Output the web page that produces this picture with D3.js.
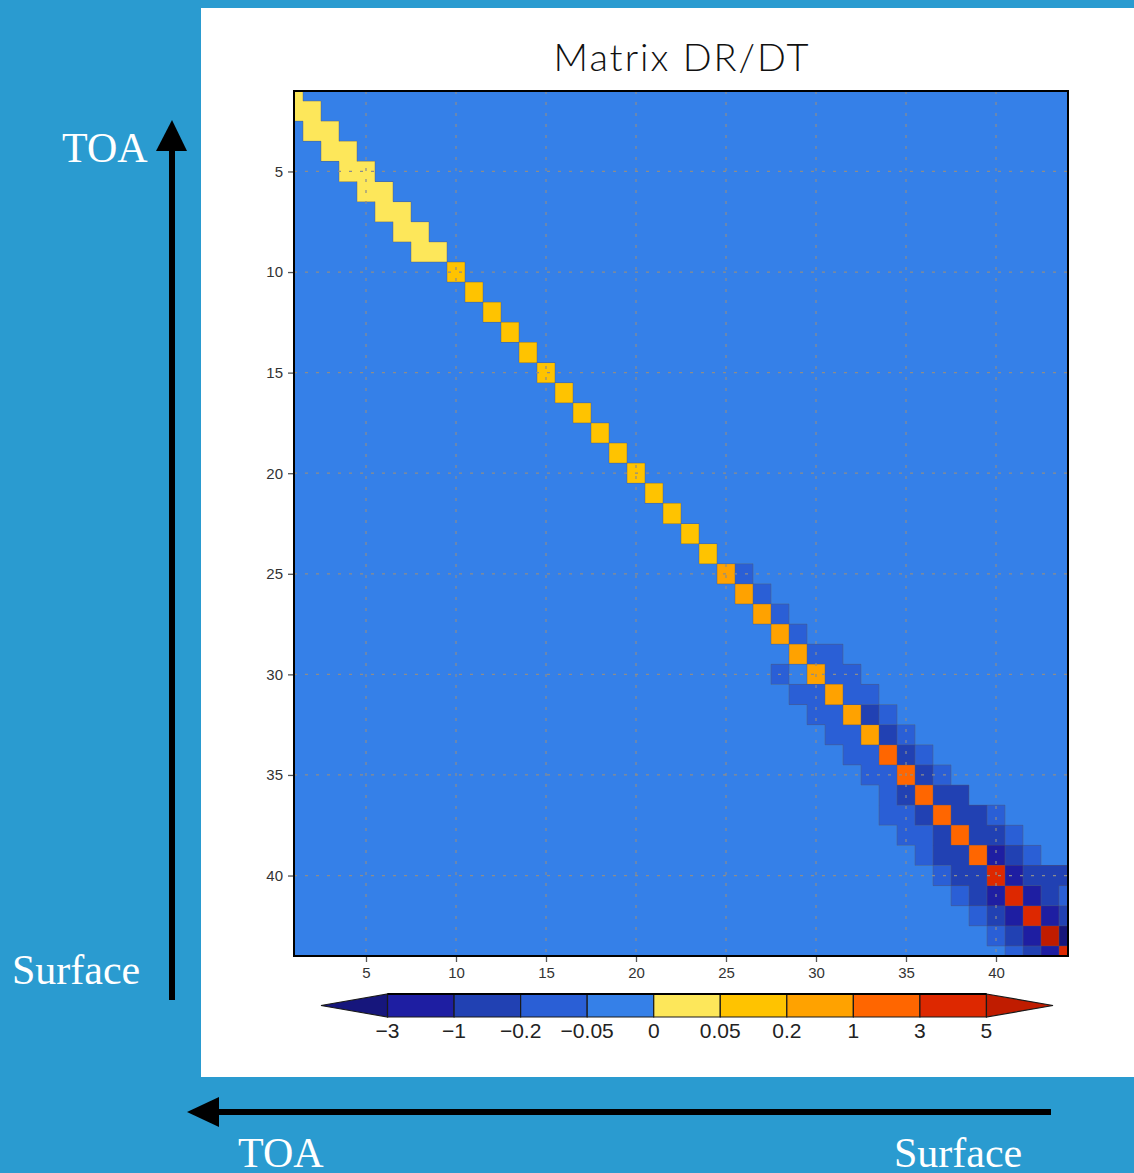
<!DOCTYPE html>
<html>
<head>
<meta charset="utf-8">
<script src="https://cdn.jsdelivr.net/npm/d3@7"></script>
<style>
  html, body { margin: 0; padding: 0; background: #2a9bd0; }
  svg { display: block; }
</style>
</head>
<body>
<div id="chart"></div>
<script>
// contour levels and fill colours (one more colour than levels)
const levels = [-3, -1, -0.2, -0.05, 0, 0.05, 0.2, 1, 3, 5];
const levelLabels = ["\u22123", "\u22121", "\u22120.2", "\u22120.05", "0", "0.05", "0.2", "1", "3", "5"];
const fillColors = ["#16167c", "#1e1ea2", "#2141b3", "#2a5fd6", "#3580e8",
  "#fde75a", "#ffc300", "#ffa200", "#ff6600", "#dd2800", "#c01c00"];

const nLevels = 44;
const axisTicks = [5, 10, 15, 20, 25, 30, 35, 40];

// first non-zero column of each row (1-based) and the values from there on
const rowStart = [
  1, 1, 2, 3, 4, 5, 6, 7, 8, 10,
  11, 12, 13, 14, 15, 16, 17, 18, 19, 20,
  21, 22, 23, 24, 25, 26, 27, 28, 29, 28,
  29, 30, 31, 32, 33, 34, 34, 35, 36, 37,
  38, 39, 40, 41
];
const rowValues = [
  [0.02],
  [0.02, 0.03],
  [0.02, 0.03],
  [0.02, 0.03],
  [0.02, 0.03],
  [0.02, 0.03],
  [0.02, 0.03],
  [0.02, 0.03],
  [0.02, 0.03],
  [0.12],
  [0.12], [0.12], [0.12], [0.12], [0.12],
  [0.12], [0.12], [0.12], [0.12], [0.12],
  [0.13], [0.14], [0.15], [0.16],
  [0.4, -0.08],
  [0.45, -0.09],
  [0.5, -0.1],
  [0.55, -0.1],
  [0.6, -0.1, -0.08],
  [-0.07, -0.01, 0.65, -0.1, -0.08],
  [-0.08, -0.1, 0.7, -0.12, -0.1],
  [-0.08, -0.1, 0.8, -0.25, -0.1],
  [-0.08, -0.1, 0.9, -0.3, -0.1],
  [-0.08, -0.15, 1.4, -0.4, -0.1],
  [-0.1, -0.15, 1.7, -0.5, -0.1],
  [-0.1, -0.3, 2.0, -0.6, -0.3],
  [-0.08, -0.1, -0.3, 2.2, -0.7, -0.3, -0.1],
  [-0.08, -0.1, -0.4, 2.5, -0.8, -0.3, -0.1],
  [-0.1, -0.3, -0.4, 2.8, -1.5, -0.5, -0.1],
  [-0.1, -0.4, -0.5, 3.5, -2.0, -0.5, -0.4, -0.3],
  [-0.1, -0.4, -1.5, 4.0, -2.0, -0.5, -0.1],
  [-0.1, -0.5, -2.0, 4.5, -2.0, -0.5],
  [-0.1, -0.5, -2.0, 6.0, -4.0],
  [-0.1, -0.5, -2.0, 4.5]
];

const W = 1134, H = 1173;

const svg = d3.select("#chart").append("svg")
  .attr("width", W)
  .attr("height", H)
  .attr("viewBox", `0 0 ${W} ${H}`);

svg.append("rect").attr("width", W).attr("height", H).attr("fill", "#2a9bd0");
svg.append("rect")
  .attr("x", 201).attr("y", 8)
  .attr("width", W - 201).attr("height", 1077 - 8)
  .attr("fill", "#ffffff");

// build full matrix, zeros everywhere else
const grid = [];
const cells = [];
for (let r = 1; r <= nLevels; r++) {
  const vals = rowValues[r - 1];
  const start = rowStart[r - 1];
  grid[r] = [];
  for (let c = 1; c <= nLevels; c++) {
    const k = c - start;
    const v = k >= 0 && k < vals.length ? vals[k] : 0;
    grid[r][c] = v;
    cells.push({ row: r, col: c, value: v });
  }
}

const bin = (v) => d3.bisectLeft(levels, v);
const color = (v) => fillColors[bin(v)];

const x = d3.scaleLinear().domain([1, nLevels]).range([294, 1068]);
const y = d3.scaleLinear().domain([1, nLevels]).range([91, 956]);

svg.append("clipPath").attr("id", "plotclip")
  .append("rect")
  .attr("x", x(1)).attr("y", y(1))
  .attr("width", x(nLevels) - x(1)).attr("height", y(nLevels) - y(1));

const plot = svg.append("g").attr("clip-path", "url(#plotclip)");

plot.append("g")
  .attr("shape-rendering", "crispEdges")
  .selectAll("rect")
  .data(cells)
  .join("rect")
  .attr("x", (d) => x(d.col - 0.5))
  .attr("y", (d) => y(d.row - 0.5))
  .attr("width", (d) => x(d.col + 0.5) - x(d.col - 0.5) + 0.5)
  .attr("height", (d) => y(d.row + 0.5) - y(d.row - 0.5) + 0.5)
  .attr("fill", (d) => color(d.value));

// contour-like edges where neighbouring cells fall in different classes
const edges = [];
cells.forEach((d) => {
  const b = bin(d.value);
  if (d.col < nLevels && bin(grid[d.row][d.col + 1]) !== b)
    edges.push({ x1: d.col + 0.5, x2: d.col + 0.5, y1: d.row - 0.5, y2: d.row + 0.5 });
  if (d.row < nLevels && bin(grid[d.row + 1][d.col]) !== b)
    edges.push({ x1: d.col - 0.5, x2: d.col + 0.5, y1: d.row + 0.5, y2: d.row + 0.5 });
});
plot.append("g")
  .selectAll("line")
  .data(edges)
  .join("line")
  .attr("x1", (d) => x(d.x1)).attr("x2", (d) => x(d.x2))
  .attr("y1", (d) => y(d.y1)).attr("y2", (d) => y(d.y2))
  .attr("stroke", "rgba(90,90,100,0.4)")
  .attr("stroke-width", 1);

// dotted grid
plot.selectAll("line.gx")
  .data(axisTicks)
  .join("line")
  .attr("class", "gx")
  .attr("x1", (d) => x(d)).attr("x2", (d) => x(d))
  .attr("y1", y(1)).attr("y2", y(nLevels))
  .attr("stroke", "#8c8c8c")
  .attr("stroke-width", 1.2)
  .attr("stroke-dasharray", "3,8");
plot.selectAll("line.gy")
  .data(axisTicks)
  .join("line")
  .attr("class", "gy")
  .attr("y1", (d) => y(d)).attr("y2", (d) => y(d))
  .attr("x1", x(1)).attr("x2", x(nLevels))
  .attr("stroke", "#8c8c8c")
  .attr("stroke-width", 1.2)
  .attr("stroke-dasharray", "3,8");

// axes
const axisFont = "'Liberation Sans', Arial, sans-serif";
const yAxis = svg.append("g")
  .attr("transform", `translate(${x(1)},0)`)
  .call(d3.axisLeft(y).tickValues(axisTicks).tickSize(6).tickPadding(5).tickSizeOuter(0));
const xAxis = svg.append("g")
  .attr("transform", `translate(0,${y(nLevels)})`)
  .call(d3.axisBottom(x).tickValues(axisTicks).tickSize(6).tickPadding(5).tickSizeOuter(0));
[xAxis, yAxis].forEach((a) => {
  a.select(".domain").remove();
  a.selectAll("line").attr("stroke", "#555").attr("stroke-width", 1.3);
  a.selectAll("text")
    .attr("font-family", axisFont)
    .attr("font-size", 15)
    .attr("fill", "#333");
});

svg.append("rect")
  .attr("x", x(1)).attr("y", y(1))
  .attr("width", x(nLevels) - x(1)).attr("height", y(nLevels) - y(1))
  .attr("fill", "none")
  .attr("stroke", "#000")
  .attr("stroke-width", 2);

// title
svg.append("text")
  .attr("x", 682).attr("y", 71)
  .attr("text-anchor", "middle")
  .attr("font-family", "Lato, 'Liberation Sans', sans-serif")
  .attr("font-weight", 300)
  .attr("font-size", 38)
  .attr("letter-spacing", 2)
  .attr("fill", "#111")
  .text("Matrix DR/DT");

// colour bar
const cb = d3.scaleLinear().domain([0, fillColors.length]).range([321, 1053]);
const cbTop = 994, cbBot = 1017, cbMid = (cbTop + cbBot) / 2;
const cbG = svg.append("g");
cbG.selectAll("path")
  .data(fillColors)
  .join("path")
  .attr("d", (c, i) => {
    if (i === 0)
      return `M${cb(0)},${cbMid}L${cb(1)},${cbTop}L${cb(1)},${cbBot}Z`;
    if (i === fillColors.length - 1)
      return `M${cb(i)},${cbTop}L${cb(i + 1)},${cbMid}L${cb(i)},${cbBot}Z`;
    return `M${cb(i)},${cbTop}H${cb(i + 1)}V${cbBot}H${cb(i)}Z`;
  })
  .attr("fill", (c) => c)
  .attr("stroke", "#1a1a1a")
  .attr("stroke-width", 1.2)
  .attr("stroke-linejoin", "miter");
cbG.append("line")
  .attr("x1", cb(1)).attr("x2", cb(fillColors.length - 1))
  .attr("y1", cbTop).attr("y2", cbTop)
  .attr("stroke", "#000").attr("stroke-width", 2);
cbG.selectAll("text")
  .data(levelLabels)
  .join("text")
  .attr("x", (d, i) => cb(i + 1))
  .attr("y", 1038)
  .attr("text-anchor", "middle")
  .attr("font-family", axisFont)
  .attr("font-size", 21)
  .attr("fill", "#222")
  .text((d) => d);

// side annotations
const serif = "'Liberation Serif', 'Times New Roman', serif";
const arrows = svg.append("g");
arrows.append("line")
  .attr("x1", 172).attr("x2", 172).attr("y1", 1000).attr("y2", 148)
  .attr("stroke", "#000").attr("stroke-width", 6);
arrows.append("path")
  .attr("d", "M172,120L187,151L156,151Z")
  .attr("fill", "#000");
arrows.append("line")
  .attr("x1", 1051).attr("x2", 214).attr("y1", 1112).attr("y2", 1112)
  .attr("stroke", "#000").attr("stroke-width", 6);
arrows.append("path")
  .attr("d", "M187,1112L219,1097L219,1127Z")
  .attr("fill", "#000");

const labels = [
  { text: "TOA", x: 62, y: 162 },
  { text: "Surface", x: 12, y: 984 },
  { text: "TOA", x: 238, y: 1167 },
  { text: "Surface", x: 894, y: 1167 }
];
svg.selectAll("text.side")
  .data(labels)
  .join("text")
  .attr("class", "side")
  .attr("x", (d) => d.x)
  .attr("y", (d) => d.y)
  .attr("font-family", serif)
  .attr("font-size", 42)
  .attr("fill", "#fff")
  .text((d) => d.text);
</script>
</body>
</html>
